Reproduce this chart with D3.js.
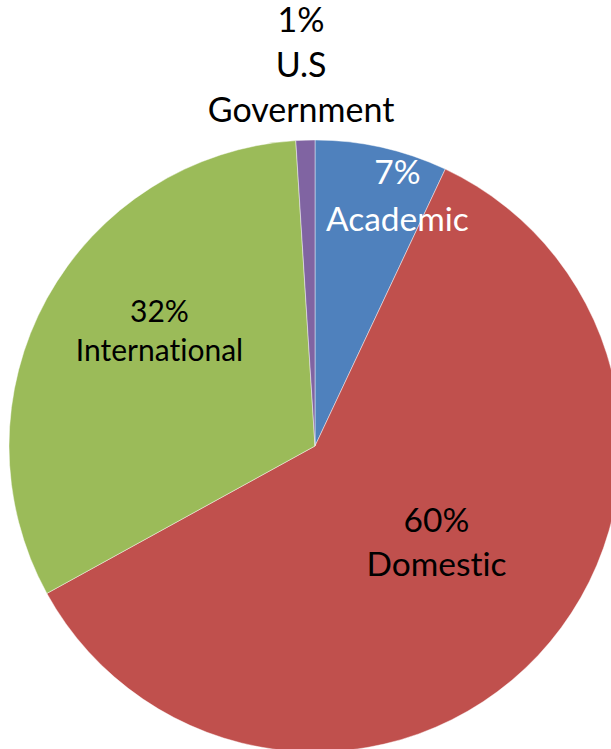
<!DOCTYPE html>
<html>
<head>
<meta charset="utf-8">
<script src="https://cdn.jsdelivr.net/npm/d3@7"></script>
<style>
  html, body { margin: 0; padding: 0; background: #ffffff; }
  svg { display: block; }
  text {
    font-family: Lato, "Open Sans", sans-serif;
    font-variant-ligatures: none;
    font-feature-settings: "liga" 0, "clig" 0;
  }
</style>
</head>
<body>
<script>
// Funding sources, in drawing order clockwise from 12 o'clock
const categories = ["Academic", "Domestic", "International", "U.S Government"];
const shares = [7, 60, 32, 1];
const sliceColors = ["#4F81BD", "#C0504D", "#9BBB59", "#8064A2"];
// Label lines shown for each slice (percentage, then category name split into lines)
const labelLines = [
  ["7%", "Academic"],
  ["60%", "Domestic"],
  ["32%", "International"],
  ["1%", "U.S", "Government"]
];
const labelColors = ["#ffffff", "#000000", "#000000", "#000000"];

const width = 611, height = 749;
const cx = 315, cy = 446, radius = 306;

const svg = d3.select("body").append("svg")
  .attr("width", width)
  .attr("height", height);

const data = categories.map((c, i) => ({ name: c, value: shares[i], i }));

const pie = d3.pie()
  .value(d => d.value)
  .sort(null);

const arcs = pie(data);

const arc = d3.arc().innerRadius(0).outerRadius(radius);

const g = svg.append("g").attr("transform", `translate(${cx},${cy})`);

g.selectAll("path.slice")
  .data(arcs)
  .join("path")
  .attr("class", "slice")
  .attr("d", arc)
  .attr("fill", d => sliceColors[d.data.i])
  .attr("stroke", "rgba(255,255,255,0.55)")
  .attr("stroke-width", 0.8);

// Label placement: radial fraction along the slice's mid-angle plus a small nudge;
// the tiny slice gets its label outside the pie
const labelRadius = [0.83, 0.54, 0.58, 1.24];
const labelNudge = [[27, -2], [1, -17], [0, -30], [-2, -2]];
const fontSizes = [33.5, 33.5, 30, 34];
const lineHeights = [47, 44, 39, 45];

arcs.forEach((d, k) => {
  const mid = (d.startAngle + d.endAngle) / 2;
  const r = radius * labelRadius[k];
  const x = Math.sin(mid) * r + labelNudge[k][0];
  const y = -Math.cos(mid) * r + labelNudge[k][1];
  const lines = labelLines[k];
  const lh = lineHeights[k];
  const t = g.append("text")
    .attr("text-anchor", "middle")
    .attr("fill", labelColors[k])
    .attr("font-size", fontSizes[k]);
  const top = y - (lines.length - 1) * lh / 2;
  lines.forEach((ln, j) => {
    t.append("tspan")
      .attr("x", x)
      .attr("y", top + j * lh)
      .attr("dy", "0.35em")
      .text(ln);
  });
});
</script>
</body>
</html>
